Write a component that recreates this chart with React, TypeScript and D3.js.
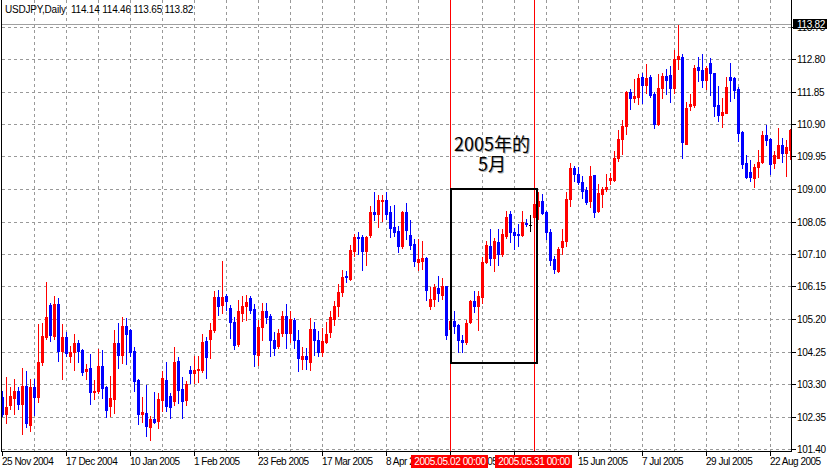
import React from 'react';
import * as d3 from 'd3';

// header / axis text
const chartTitle = 'USDJPY,Daily  114.14 114.46 113.65 113.82';
const firstDay = '2004-11-25';
const lastPrice = 113.82;
const priceTicks = [
  113.75, 112.8, 111.85, 110.9, 109.95, 109.0, 108.05, 107.1, 106.15, 105.2, 104.25, 103.3, 102.35, 101.4,
];

// daily bars
const opens = [
  102.93, 102.42, 102.69, 102.89, 103.1, 102.72, 103.25, 102.11, 103.22, 102.93,
  103.93, 104.66, 105.61, 104.71, 105.63, 104.27, 104.66, 104.12, 104.24, 104.49,
  104.29, 103.69, 103.78, 103.07, 103.1, 103.82, 103.2, 102.66, 102.86, 104.49,
  104.15, 105.0, 104.88, 104.26, 103.41, 102.43, 102.45, 102.05, 102.27, 102.22,
  102.83, 103.41, 102.95, 102.79, 103.98, 103.15, 102.84, 103.7, 103.62, 103.7,
  103.72, 104.55, 104.62, 104.87, 105.84, 105.6, 105.88, 105.52, 105.12, 104.48,
  105.39, 105.57, 105.82, 105.5, 104.16, 104.97, 105.42, 105.3, 104.6, 104.4,
  104.79, 105.3, 104.79, 105.18, 104.6, 104.03, 104.13, 103.93, 104.92, 104.58,
  104.23, 104.53, 104.81, 105.2, 105.57, 105.98, 106.47, 106.37, 107.18, 107.6,
  107.59, 107.18, 107.67, 108.34, 108.26, 108.66, 108.69, 108.34, 107.88, 107.78,
  107.34, 108.34, 107.67, 107.39, 106.86, 106.91, 106.98, 105.57, 105.79, 106.11,
  105.91, 106.15, 104.9, 105.15, 105.03, 104.58, 104.52, 105.1, 105.72, 105.57,
  105.83, 106.88, 107.32, 106.98, 107.46, 107.1, 107.63, 108.26, 107.75, 107.68,
  107.66, 108.02, 107.96, 108.17, 108.51, 108.65, 108.33, 107.75, 106.95, 106.61,
  107.29, 107.49, 108.7, 109.6, 109.45, 109.21, 108.97, 108.65, 109.4, 108.36,
  108.85, 109.0, 109.26, 109.27, 109.92, 110.46, 110.85, 111.84, 111.65, 111.7,
  112.28, 112.04, 112.28, 111.77, 110.91, 111.95, 112.3, 112.33, 111.95, 112.79,
  112.86, 110.33, 111.43, 111.46, 112.57, 112.47, 112.19, 112.68, 112.39, 111.45,
  111.17, 111.22, 112.28, 112.24, 111.92, 110.68, 109.75, 109.5, 109.32, 109.65,
  109.79, 110.57, 110.46, 109.75, 109.92, 110.28, 110.05, 110.14,
];
const highs = [
  103.1, 103.51, 103.22, 103.44, 103.2, 103.77, 103.68, 103.44, 103.44, 105.05,
  105.08, 106.29, 105.68, 105.88, 105.82, 105.05, 104.81, 104.41, 104.76, 104.59,
  104.32, 103.88, 104.17, 103.41, 104.32, 104.3, 103.25, 103.54, 104.88, 105.08,
  105.26, 105.22, 104.9, 104.37, 103.44, 102.93, 103.28, 102.37, 103.07, 103.03,
  103.69, 103.95, 103.05, 104.38, 104.08, 103.5, 103.4, 103.83, 104.13, 104.13,
  104.77, 104.67, 105.08, 106.01, 106.04, 106.9, 105.94, 105.62, 105.26, 105.77,
  105.88, 105.91, 105.86, 105.65, 105.18, 105.67, 105.67, 105.36, 104.81, 104.92,
  105.42, 105.65, 105.42, 105.23, 104.87, 104.38, 104.35, 105.23, 105.1, 104.84,
  104.94, 105.1, 105.44, 105.74, 106.22, 106.64, 106.61, 107.37, 107.69, 107.75,
  107.65, 107.64, 108.49, 108.91, 108.83, 108.83, 108.91, 108.49, 108.54, 107.91,
  108.35, 108.59, 108.1, 107.54, 107.54, 107.49, 107.0, 106.14, 106.23, 106.45,
  106.4, 106.17, 105.3, 105.42, 105.05, 104.74, 105.16, 105.75, 106.03, 106.01,
  107.02, 107.49, 107.83, 107.58, 107.83, 107.83, 108.36, 108.36, 107.87, 107.97,
  108.36, 108.12, 108.25, 108.95, 108.9, 108.85, 108.36, 107.83, 107.05, 107.29,
  107.83, 108.9, 109.75, 109.68, 109.65, 109.39, 109.06, 109.66, 109.42, 109.14,
  109.07, 109.45, 109.48, 110.1, 110.72, 111.02, 111.87, 111.92, 112.21, 112.36,
  112.4, 112.65, 112.33, 111.85, 112.36, 112.4, 112.5, 112.6, 113.07, 113.79,
  112.94, 111.55, 111.77, 112.63, 112.86, 112.94, 112.6, 112.82, 112.4, 112.01,
  111.67, 112.28, 112.67, 112.28, 111.97, 110.7, 109.99, 109.84, 109.72, 110.13,
  110.7, 110.87, 110.5, 110.11, 110.78, 110.49, 110.43, 110.75,
];
const lows = [
  102.37, 102.16, 102.56, 102.42, 102.57, 101.84, 102.03, 101.93, 102.39, 102.78,
  103.86, 104.63, 104.56, 104.61, 103.98, 103.46, 104.11, 103.93, 103.72, 103.93,
  103.56, 103.46, 102.71, 102.86, 103.05, 102.88, 102.35, 102.37, 102.45, 103.78,
  103.91, 103.88, 104.11, 103.1, 102.13, 102.18, 101.79, 101.67, 102.16, 102.01,
  102.52, 102.5, 102.3, 102.69, 102.74, 102.3, 102.69, 103.32, 103.33, 103.35,
  103.64, 103.49, 104.06, 104.81, 105.33, 105.38, 105.47, 104.65, 104.33, 104.42,
  105.15, 105.16, 105.39, 103.82, 103.87, 104.6, 105.08, 104.11, 104.16, 104.35,
  104.71, 104.35, 104.52, 104.35, 103.69, 103.74, 103.74, 103.72, 104.16, 104.13,
  104.11, 104.5, 104.67, 105.03, 105.28, 105.88, 106.28, 106.35, 107.03, 107.11,
  106.64, 106.77, 107.6, 108.08, 107.88, 108.07, 108.12, 107.6, 107.62, 107.15,
  107.28, 107.54, 107.26, 106.76, 106.62, 106.66, 105.77, 105.5, 105.59, 105.72,
  105.79, 104.62, 104.8, 104.8, 104.23, 104.23, 104.46, 105.08, 105.4, 104.87,
  105.67, 106.83, 106.78, 106.61, 106.78, 107.05, 107.58, 107.44, 107.24, 107.34,
  107.64, 107.92, 107.78, 108.12, 108.12, 108.26, 107.53, 106.78, 106.54, 106.56,
  107.1, 107.34, 108.49, 109.24, 109.14, 108.75, 108.56, 108.46, 108.19, 108.33,
  108.46, 108.95, 109.14, 109.24, 109.82, 110.02, 110.6, 111.33, 111.53, 111.48,
  111.51, 111.8, 111.69, 110.78, 110.88, 111.65, 111.77, 111.55, 111.82, 112.5,
  109.92, 110.31, 111.3, 111.4, 112.16, 111.97, 111.92, 111.75, 111.14, 110.99,
  110.8, 111.21, 111.58, 111.67, 110.39, 109.61, 109.32, 109.24, 109.06, 109.36,
  109.75, 110.28, 109.43, 109.61, 109.9, 109.79, 109.38, 109.87,
];
const closes = [
  102.42, 102.63, 102.95, 103.1, 102.72, 103.25, 102.15, 103.22, 102.93, 103.93,
  104.71, 105.26, 104.74, 105.63, 104.27, 104.66, 104.22, 104.25, 104.49, 104.27,
  103.66, 103.73, 103.07, 103.1, 103.82, 103.17, 102.55, 102.9, 104.51, 104.14,
  105.0, 104.76, 104.24, 103.39, 102.42, 102.49, 102.08, 102.27, 102.18, 102.86,
  103.47, 102.65, 102.62, 103.95, 103.13, 102.81, 103.3, 103.62, 103.72, 103.75,
  104.52, 104.09, 104.87, 105.84, 105.57, 105.84, 105.74, 105.1, 104.45, 105.43,
  105.59, 105.69, 105.45, 104.18, 104.97, 105.42, 105.25, 104.58, 104.35, 104.79,
  105.3, 104.79, 105.2, 104.58, 104.06, 104.13, 104.03, 104.92, 104.58, 104.23,
  104.57, 104.77, 105.25, 105.59, 106.0, 106.43, 106.43, 107.23, 107.6, 107.56,
  107.18, 107.6, 108.32, 108.26, 108.69, 108.69, 108.27, 107.85, 107.73, 107.32,
  108.32, 107.79, 107.37, 106.89, 106.94, 106.98, 106.04, 105.79, 106.14, 105.96,
  106.15, 104.74, 105.15, 104.99, 104.58, 104.54, 105.08, 105.72, 105.57, 105.88,
  106.88, 107.37, 106.98, 107.49, 107.1, 107.68, 108.17, 107.75, 107.66, 107.66,
  108.05, 107.97, 107.96, 108.56, 108.65, 108.31, 107.73, 106.92, 106.66, 107.26,
  107.47, 108.7, 109.6, 109.45, 109.21, 108.95, 108.61, 109.39, 108.33, 108.87,
  109.0, 109.06, 109.32, 109.92, 110.46, 110.85, 111.84, 111.65, 111.72, 112.24,
  112.04, 112.24, 111.74, 110.91, 111.95, 112.3, 112.19, 111.95, 112.81, 112.88,
  110.38, 111.36, 111.48, 112.53, 112.48, 112.19, 112.53, 112.39, 111.43, 111.16,
  111.26, 111.99, 112.19, 111.9, 110.65, 109.74, 109.36, 109.34, 109.65, 109.79,
  110.57, 110.44, 109.72, 109.99, 110.28, 110.05, 110.23, 110.72,
];

// vertical markers and the drawn box
const markerDays = ['2005-05-02', '2005-05-31'];
const boxHigh = 109.0;
const boxLow = 103.92;
const noteLines = ['2005年的', '5月'];

const parseDay = d3.timeParse('%Y-%m-%d');
const dayKey = d3.timeFormat('%Y-%m-%d');
const dayLabel = d3.timeFormat('%-d %b %Y');
const markerLabel = d3.timeFormat('%Y.%m.%d 00:00');

const start = parseDay(firstDay) as Date;
const tradingDays = d3.timeDay
  .range(start, d3.timeDay.offset(start, 300))
  .filter(d => d.getDay() % 6 !== 0)
  .slice(0, opens.length);

const App = () => {
  const width = 831,
    height = 470;
  const axisX = 791,
    axisY = 451;
  const n = opens.length;
  const keys = tradingDays.map(d => dayKey(d));

  const x = d3.scaleBand<string>().domain(keys).range([0, n * 4]);
  const y = d3.scaleLinear().domain([101.4, 113.75]).range([449, 26.5]);
  const col = (k: string) => (x(k) ?? 0) + 2;
  const row = (p: number) => Math.round(y(p));

  const font = '"Liberation Sans", Arial, sans-serif';
  const grid = '#999999';

  const lastRow = Math.floor(y(lastPrice));

  return (
    <svg
      width={width}
      height={height}
      style={{position: 'absolute', left: 0, top: 0, display: 'block', background: '#fff'}}
      fontFamily={font}
      fontSize={10}
      shapeRendering="crispEdges"
    >
      {/* grid */}
      <g stroke={grid} strokeDasharray="3,3">
        {keys.map((k, i) =>
          i > 0 && i % 8 === 0 ? (
            <line key={k} x1={col(k) + 0.5} x2={col(k) + 0.5} y1={0} y2={axisY} />
          ) : null
        )}
        {priceTicks.map(p => (
          <line key={p} x1={2} x2={axisX} y1={row(p) + 0.5} y2={row(p) + 0.5} />
        ))}
      </g>

      {/* current price line */}
      <line x1={2} x2={axisX} y1={lastRow + 0.5} y2={lastRow + 0.5} stroke="#a0a0a0" />

      {/* candles */}
      <g>
        {keys.map((k, i) => {
          const o = opens[i],
            c = closes[i];
          const color = c > o ? '#ff0000' : c < o ? '#0000ff' : '#000000';
          const cx = col(k);
          const top = row(Math.max(o, c)),
            bot = row(Math.min(o, c));
          return (
            <g key={k} fill={color}>
              <rect x={cx} y={row(highs[i])} width={1} height={row(lows[i]) - row(highs[i]) + 1} />
              <rect x={cx - 1} y={top} width={3} height={Math.max(1, bot - top + 1)} />
            </g>
          );
        })}
      </g>

      {/* red vertical markers */}
      {markerDays.map(d => (
        <line key={d} x1={col(d) + 0.5} x2={col(d) + 0.5} y1={0} y2={axisY} stroke="#ff0000" />
      ))}

      {/* box */}
      <rect
        x={col(markerDays[0]) + 1}
        y={row(boxHigh)}
        width={col(markerDays[1]) + 3 - (col(markerDays[0]) + 1)}
        height={row(boxLow) - row(boxHigh)}
        fill="none"
        stroke="#000"
        strokeWidth={2}
      />

      {/* note */}
      <g
        fontFamily='"Noto Sans CJK SC", "Noto Sans CJK JP", sans-serif'
        fontSize={18}
        textAnchor="middle"
        shapeRendering="auto"
      >
        {noteLines.map((t, i) => (
          <g key={t}>
            <text x={493} y={152 + i * 20} fill="#b0b0b0">
              {t}
            </text>
            <text x={492} y={151 + i * 20} fill="#000">
              {t}
            </text>
          </g>
        ))}
      </g>

      {/* frame */}
      <g stroke="#000">
        <line x1={1.5} x2={1.5} y1={0} y2={axisY + 1} />
        <line x1={axisX + 0.5} x2={axisX + 0.5} y1={0} y2={axisY + 1} />
        <line x1={1} x2={axisX + 1} y1={axisY + 0.5} y2={axisY + 0.5} />
      </g>

      {/* price axis */}
      <g>
        {priceTicks.map(p => (
          <g key={p}>
            <line x1={axisX + 1} x2={axisX + 5} y1={row(p) + 0.5} y2={row(p) + 0.5} stroke="#000" />
            <text x={797} y={row(p) + 4} fill="#000" letterSpacing={-0.3} shapeRendering="auto">
              {p.toFixed(2)}
            </text>
          </g>
        ))}
        <rect x={axisX + 2} y={lastRow - 5} width={34} height={10} fill="#000" />
        <text x={797} y={lastRow + 4} fill="#fff" letterSpacing={-0.3}>
          {lastPrice.toFixed(2)}
        </text>
      </g>

      {/* time axis */}
      <g>
        {tradingDays.map((d, i) =>
          i % 16 === 0 ? (
            <g key={i}>
              <line x1={col(keys[i]) + 0.5} x2={col(keys[i]) + 0.5} y1={axisY + 1} y2={axisY + 5} stroke="#000" />
              <text x={col(keys[i])} y={465} fill="#000" letterSpacing={-0.5}>
                {dayLabel(d)}
              </text>
            </g>
          ) : null
        )}
        {markerDays.map(d => (
          <g key={d}>
            <rect x={col(d) - 39} y={455} width={77} height={13} fill="#ff0000" />
            <text x={col(d)} y={465} fill="#fff" textAnchor="middle" letterSpacing={-0.4}>
              {markerLabel(parseDay(d) as Date)}
            </text>
          </g>
        ))}
      </g>

      {/* title */}
      <text x={5} y={13} fill="#000" letterSpacing={-0.2} style={{whiteSpace: 'pre'}}>
        {chartTitle}
      </text>
    </svg>
  );
};

export default App;
